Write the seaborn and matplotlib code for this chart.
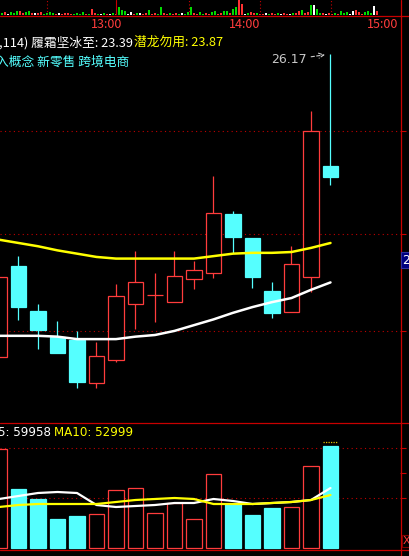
import numpy as np
import seaborn as sns
import matplotlib.pyplot as plt
from matplotlib.lines import Line2D

# ---- data ----
opens = [22.48, 23.59, 23.04, 22.73, 22.69, 22.17, 22.45, 23.13, 23.24, 23.15,
         23.43, 23.50, 24.22, 23.93, 23.29, 23.03, 23.46, 24.81]
highs = [23.46, 23.71, 23.13, 22.92, 22.80, 22.66, 23.37, 23.77, 23.50, 23.77,
         23.65, 24.69, 24.26, 23.93, 23.40, 23.83, 25.48, 26.17]
lows = [22.48, 22.93, 22.58, 22.53, 22.10, 22.10, 22.42, 22.82, 22.91, 23.15,
        23.31, 23.44, 23.75, 23.32, 22.96, 23.03, 23.27, 24.58]
closes = [23.46, 23.09, 22.81, 22.53, 22.18, 22.49, 23.23, 23.40, 23.24, 23.47,
          23.54, 24.24, 23.94, 23.46, 23.02, 23.61, 25.23, 24.67]

# 潜龙勿用 (yellow) and 履霜坚冰至 (white)
qianlong = [23.91, 23.87, 23.83, 23.78, 23.74, 23.70, 23.68, 23.68, 23.68, 23.68,
            23.68, 23.71, 23.74, 23.75, 23.75, 23.76, 23.81, 23.87]
lvshuang = [22.74, 22.74, 22.74, 22.73, 22.70, 22.70, 22.70, 22.73, 22.75, 22.80,
            22.87, 22.94, 23.02, 23.09, 23.15, 23.20, 23.30, 23.39]
price_grid = [25.23, 23.98, 22.80]

volume = [99000, 59000, 49000, 29000, 32000, 34000, 58000, 60000, 35000, 45000,
          29000, 74000, 44000, 33000, 40000, 41000, 82000, 102000]
vol_ma5 = [49000, 52000, 55000, 56000, 55000, 43000, 41000, 42000, 43000, 45000,
           45000, 49000, 47000, 44000, 45000, 46000, 48000, 59958]
vol_ma10 = [41000, 43000, 44000, 44000, 44000, 44000, 46000, 48000, 49000, 50000,
            49000, 44000, 44000, 44000, 45000, 46000, 48000, 52999]
vol_grid = [50000, 100000]

# small intraday strip on top
strip_h = [2, 3, 1, 3, 2, 4, 4, 2, 3, 4, 2, 2, 2, 3, 1, 2, 3, 2, 1, 2, 1, 2, 2, 1, 1, 2, 1, 3, 1, 1, 6, 2, 1, 1, 2,
           1, 1, 2, 1, 8, 5, 4, 1, 3, 1, 2, 2, 1, 2, 5, 1, 2, 1, 8, 2, 1, 2, 1, 2, 1, 2, 1, 3, 8, 2, 1, 3, 1, 2,
           1, 3, 4, 1, 2, 4, 4, 2, 6, 8, 15, 11, 1, 2, 3, 2, 2, 1, 1, 2, 1, 2, 1, 2, 1, 2, 1, 1, 2, 2, 4, 5, 2,
           3, 10, 10, 6, 2, 2, 1, 2, 1, 2, 1, 4, 2, 3, 1, 4, 5, 3, 1, 3, 4, 2, 9, 4]
strip_c = ("grwgggrrggrwrrggggrwrrrrggggrgrrgwg"
           "rwgrgggwwrgwrrgrrggrrgrrgwgggrrggr"
           "rggrrggrggrrwgrrgrrwgrrgwrrwgrrgr"
           "rgwggrwrrgrgggwwrrrgggwr")
time_labels = ["13:00", "14:00", "15:00"]

RED = "#ff3c3c"
CYAN = "#55ffff"
FRAME = "#c80000"
GRID = "#c00000"

sns.set_theme(style="dark", rc={"axes.facecolor": "black", "figure.facecolor": "black"})
plt.rcParams["font.family"] = ["Noto Sans CJK SC", "DejaVu Sans"]

W, H = 409, 556
fig = plt.figure(figsize=(W / 100, H / 100), dpi=100)


def box(x0, y0, x1, y1):
    return [x0 / W, 1 - y1 / H, (x1 - x0) / W, (y1 - y0) / H]


ax_s = fig.add_axes(box(0, 0, 400, 15.3))
ax = fig.add_axes(box(0, 30, 400, 423))
ax_v = fig.add_axes(box(0, 423, 400, 550))
for a in (ax_s, ax, ax_v):
    a.set_facecolor("black")
    for s in a.spines.values():
        s.set_visible(False)

# ---- top strip ----
sx = np.arange(len(strip_h)) * 3 + 1.5
cmap = {"r": "#ff3232", "g": "#00dc00", "w": "#ffffff"}
ax_s.bar(sx, strip_h, width=2, color=[cmap[c] for c in strip_c], linewidth=0)
ax_s.set_xlim(0, 400)
ax_s.set_ylim(0, 15.3)
for xv in [47, 189, 260, 331]:
    ax_s.axvline(xv, color=FRAME, lw=0.8, ls=(0, (1, 2)))
ax_s.axvline(116, color=FRAME, lw=0.8)
ax_s.set_yticks([])
ax_s.set_xticks([107, 245, 383], time_labels)
ax_s.tick_params(axis="x", length=0, pad=1.8, labelcolor=RED, labelsize=9)
ax_s.grid(False)

# ---- candles ----
idx = np.arange(len(opens))
o, c = np.array(opens), np.array(closes)
up = c >= o
cols = [RED if u else CYAN for u in up]
ax.vlines(idx, lows, highs, colors=cols, lw=0.9, zorder=2)
ax.bar(idx, np.abs(c - o), bottom=np.minimum(o, c), width=0.77,
       color=["black" if u else CYAN for u in up], edgecolor=cols, linewidth=0.9, zorder=3)
sns.lineplot(x=idx, y=qianlong, ax=ax, color="#ffff00", linewidth=1.8, zorder=4, legend=False)
sns.lineplot(x=idx, y=lvshuang, ax=ax, color="#ffffff", linewidth=1.8, zorder=4, legend=False)
ax.set_xlim(1 / 19.5, 401 / 19.5)
ax.set_ylim(21.679, 26.462)
ax.set_xticks([])
ax.set_yticks(price_grid)
ax.yaxis.tick_right()
ax.tick_params(axis="y", colors=FRAME, length=4.5, width=0.8, labelright=False, direction="out")
ax.grid(axis="y", color=GRID, linestyle=(0, (1, 3)), linewidth=0.8)
ax.grid(axis="x", visible=False)
ax.set_xlabel("")
ax.set_ylabel("")

hi = int(np.argmax(highs))
ax.annotate(f"{highs[hi]:.2f}", xy=(hi, highs[hi]), xytext=(-24, -6),
            textcoords="offset pixels", ha="right", va="center", fontsize=9,
            color="#c8c8c8", family="DejaVu Sans",
            arrowprops=dict(arrowstyle="->", color="#c8c8c8", lw=0.8,
                            ls=(0, (3, 2)), shrinkA=1, shrinkB=4))

# ---- volume ----
ax_v.bar(idx, volume, width=0.77, color=["black" if u else CYAN for u in up],
         edgecolor=cols, linewidth=0.9, zorder=3)
sns.lineplot(x=idx, y=vol_ma5, ax=ax_v, color="#ffffff", linewidth=1.6, zorder=4, legend=False)
sns.lineplot(x=idx, y=vol_ma10, ax=ax_v, color="#ffff00", linewidth=1.6, zorder=4, legend=False)
ax_v.hlines(max(volume) + 4000, len(volume) - 1 - 0.385, len(volume) - 1 + 0.385,
            colors="#e0c000", linestyles=(0, (1, 1)), lw=0.9)
ax_v.set_xlim(1 / 19.5, 401 / 19.5)
ax_v.set_ylim(-2000, 125000)
ax_v.set_xticks([])
ax_v.set_yticks(vol_grid)
ax_v.set_yticks([75000], minor=True)
ax_v.yaxis.tick_right()
ax_v.tick_params(axis="y", which="both", colors=FRAME, length=4.5, width=0.8,
                 labelright=False, direction="out")
ax_v.grid(axis="y", color=GRID, linestyle=(0, (1, 3)), linewidth=0.8)
ax_v.grid(axis="x", visible=False)
ax_v.set_xlabel("")
ax_v.set_ylabel("")

# ---- frame lines ----
for yy in [15.5, 423, 550]:
    fig.add_artist(Line2D([0, 1], [1 - yy / H] * 2, transform=fig.transFigure, color=FRAME, lw=0.9))
fig.add_artist(Line2D([400.5 / W] * 2, [0, 1], transform=fig.transFigure, color=FRAME, lw=0.9))

# ---- texts ----
def fx(x):
    return x / W


def fy(y):
    return 1 - y / H


fig.text(fx(-1), fy(42.5), ",114) 履霜坚冰至: 23.39", color="white", fontsize=9.2, va="center")
fig.text(fx(134), fy(42.5), "潜龙勿用: 23.87", color="#ffff00", fontsize=9.2, va="center")
fig.text(fx(-4), fy(62), "入概念 新零售 跨境电商", color=CYAN, fontsize=9.2, va="center")
fig.text(fx(-2), fy(432), f"5: {vol_ma5[-1]}", color="white", fontsize=8.6, va="center",
         family="DejaVu Sans")
fig.text(fx(54), fy(432), f"MA10: {vol_ma10[-1]}", color="#ffff00", fontsize=8.6, va="center",
         family="DejaVu Sans")
fig.text(fx(402.5), fy(260), "2", color="white", fontsize=9, va="center", family="DejaVu Sans",
         bbox=dict(boxstyle="square,pad=0.15", fc="#000080", ec="#3030a0", lw=0.8))
fig.text(fx(403), fy(541), "X", color=RED, fontsize=8, va="center", family="DejaVu Sans",
         bbox=dict(boxstyle="square,pad=0.1", fc="black", ec="#800000", lw=0.8))

fig.savefig("out.png", dpi=100, facecolor="black")
